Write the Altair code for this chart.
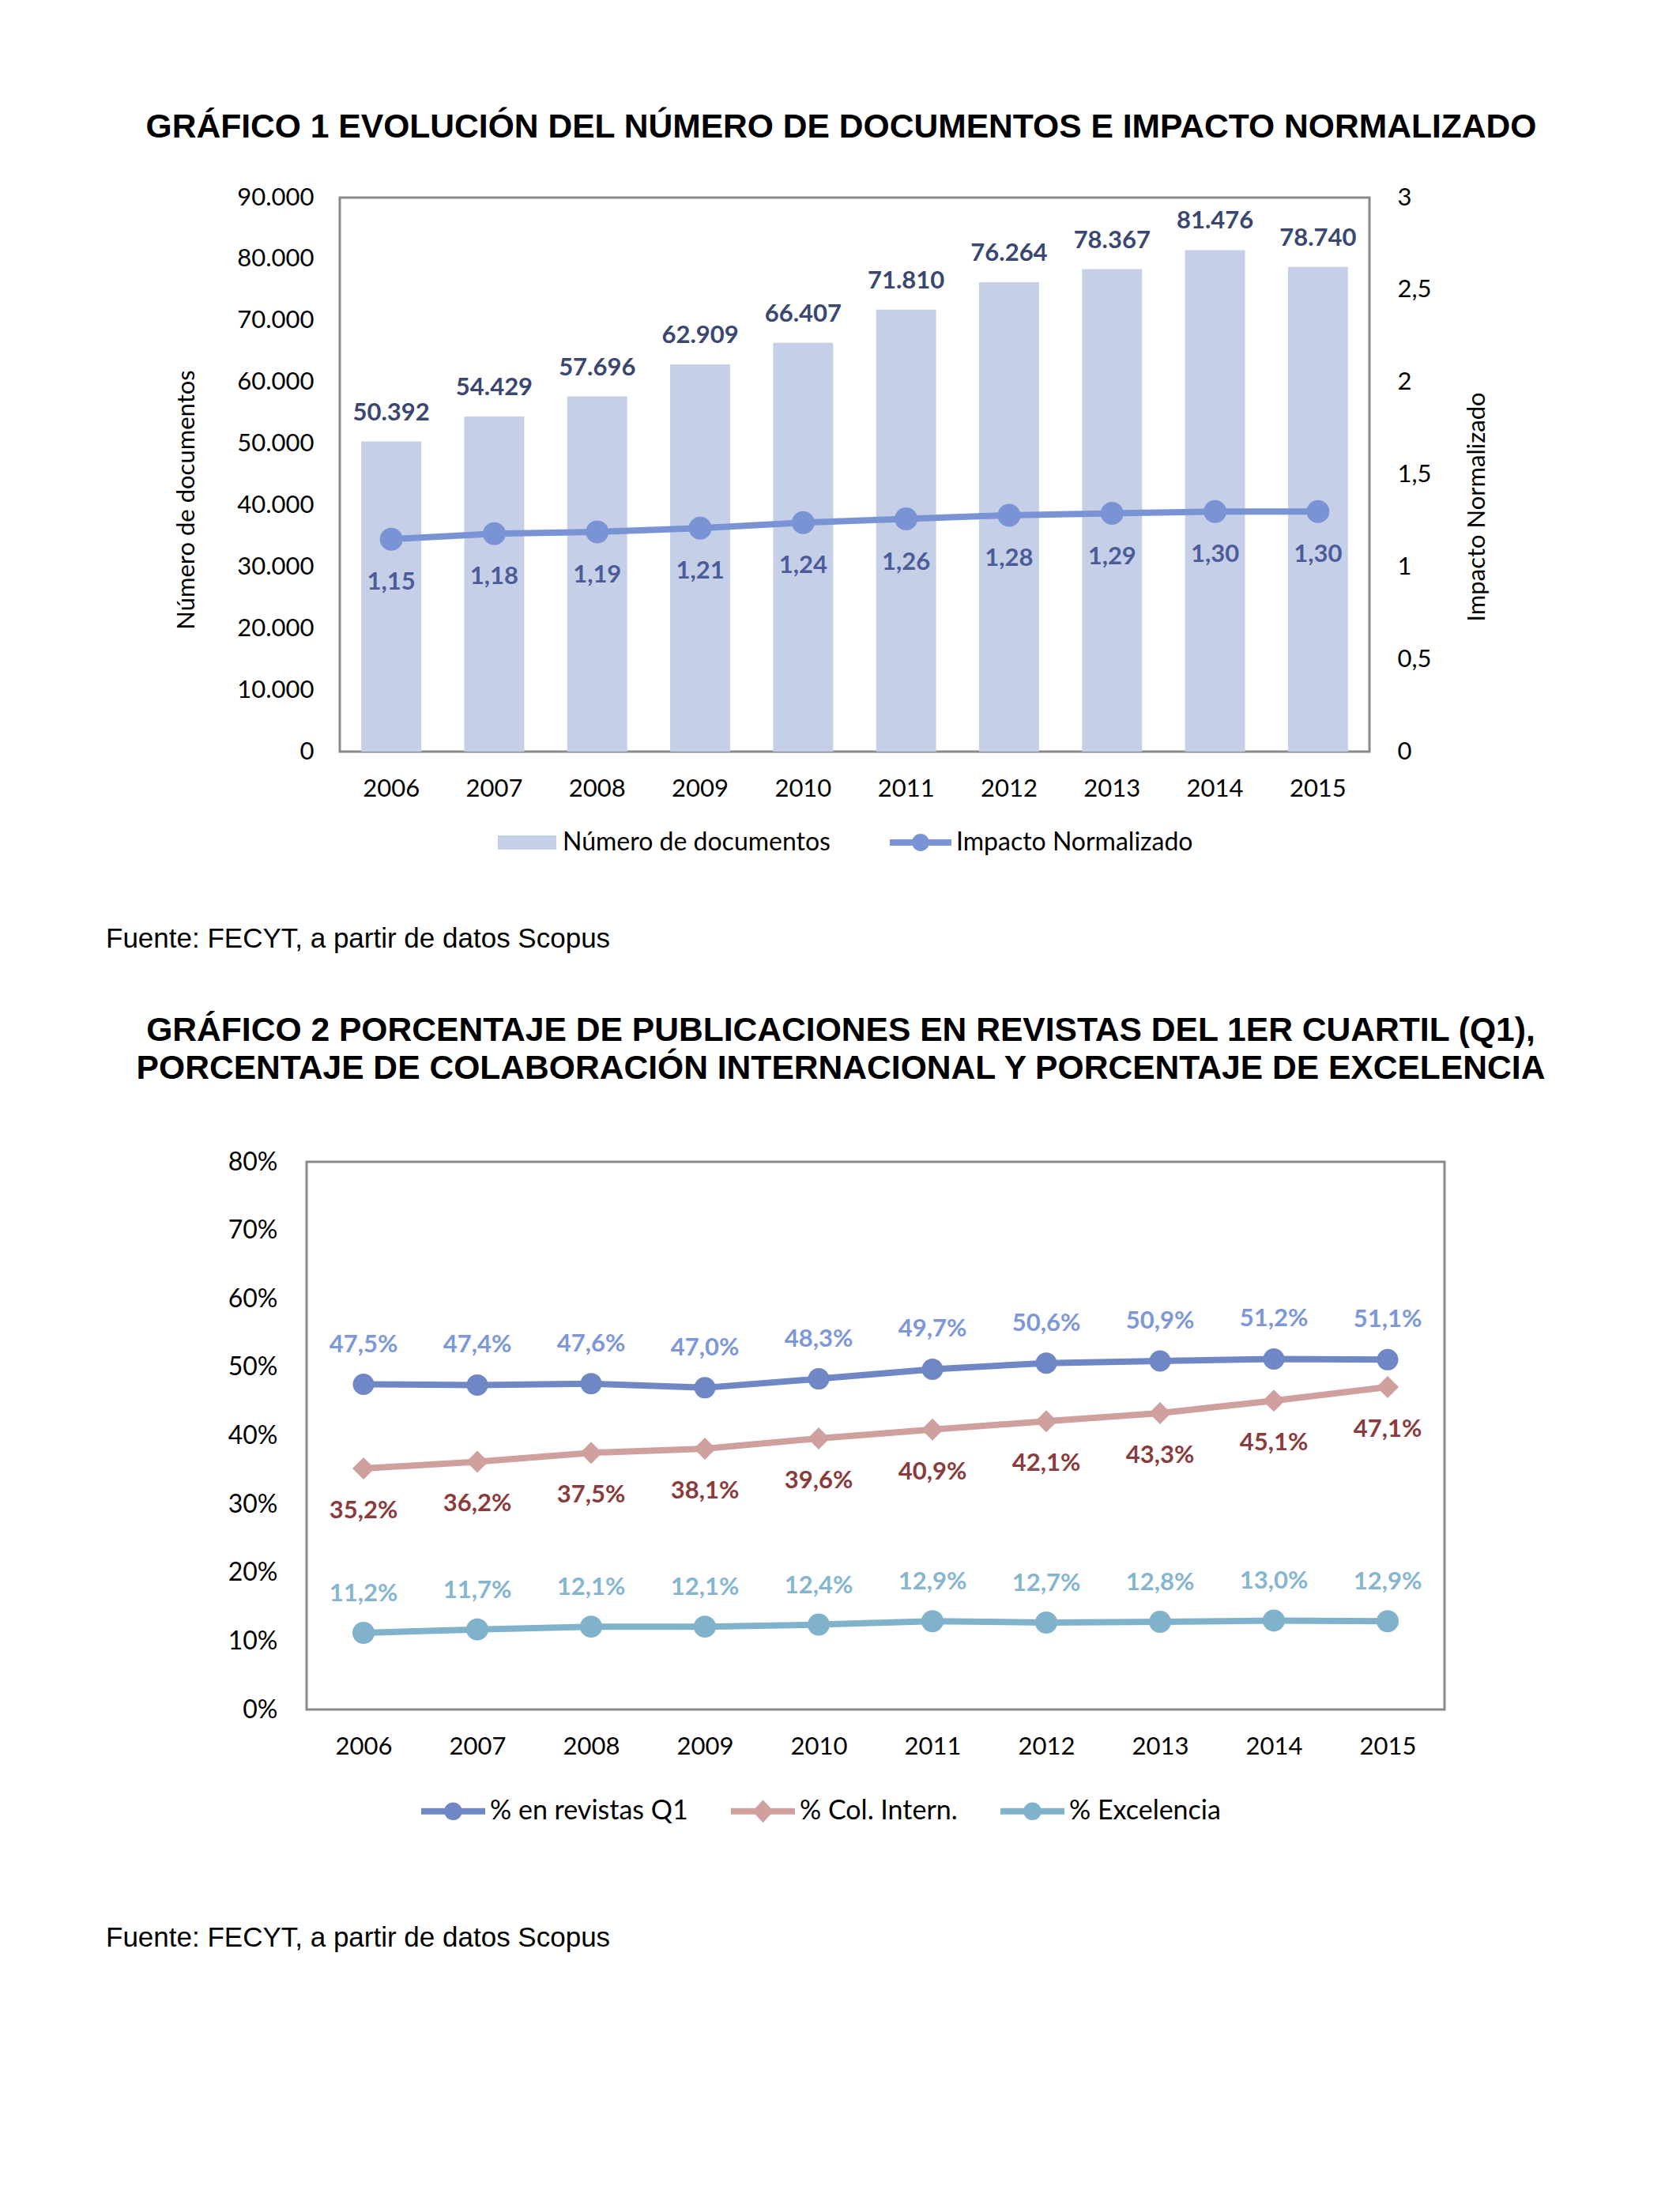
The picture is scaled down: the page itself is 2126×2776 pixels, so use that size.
import altair as alt
import pandas as pd

# ---------------- data ----------------
years = ["2006", "2007", "2008", "2009", "2010", "2011", "2012", "2013", "2014", "2015"]
documentos = [50392, 54429, 57696, 62909, 66407, 71810, 76264, 78367, 81476, 78740]
impacto = [1.15, 1.18, 1.19, 1.21, 1.24, 1.26, 1.28, 1.29, 1.30, 1.30]

q1 = [47.5, 47.4, 47.6, 47.0, 48.3, 49.7, 50.6, 50.9, 51.2, 51.1]
col_intern = [35.2, 36.2, 37.5, 38.1, 39.6, 40.9, 42.1, 43.3, 45.1, 47.1]
excelencia = [11.2, 11.7, 12.1, 12.1, 12.4, 12.9, 12.7, 12.8, 13.0, 12.9]

series1 = ["Número de documentos", "Impacto Normalizado"]
series2 = ["% en revistas Q1", "% Col. Intern.", "% Excelencia"]

left_ticks1 = [0, 10000, 20000, 30000, 40000, 50000, 60000, 70000, 80000, 90000]
right_ticks1 = [0, 0.5, 1, 1.5, 2, 2.5, 3]
ticks2 = [0, 0.1, 0.2, 0.3, 0.4, 0.5, 0.6, 0.7, 0.8]

title1 = "GRÁFICO 1 EVOLUCIÓN DEL NÚMERO DE DOCUMENTOS E IMPACTO NORMALIZADO"
title2 = ["GRÁFICO 2 PORCENTAJE DE PUBLICACIONES EN REVISTAS DEL 1ER CUARTIL (Q1),",
          "PORCENTAJE DE COLABORACIÓN INTERNACIONAL Y PORCENTAJE DE EXCELENCIA"]
source = "Fuente: FECYT, a partir de datos Scopus"

# ---------------- styles ----------------
FONT = "Lato"
TFONT = "Liberation Sans"
BAR = "#C5D0E8"
LINE1 = "#7A93D5"
BARLAB = "#3A4770"
IMPLAB = "#4B5C99"
LINECOLS = ["#6F87C4", "#D0A09E", "#80B2CB"]
LABCOLS = ["#7D97D8", "#8A3B3B", "#85B5CF"]
SHAPES2 = ["circle", "diamond", "circle"]
SIZES2 = [729, 784, 784]
LABDY2 = [-50, 54, -49]
FRAME = "#8A8A8A"
FS = 31
LFS = 32

RECT_PATH = "M-0.95,-0.23H0.95V0.23H-0.95Z"
LINE_CIRCLE = ("M-1,-0.1H1V0.1H-1Z "
               "M-0.28,0A0.28,0.28,0,1,1,0.28,0A0.28,0.28,0,1,1,-0.28,0Z")
LINE_DIAMOND = ("M-1,-0.1H1V0.1H-1Z "
                "M0,-0.36L0.33,0L0,0.36L-0.33,0Z")

df1 = pd.DataFrame({
    "year": years,
    "docs": documentos,
    "docs_label": [f"{v:,}".replace(",", ".") for v in documentos],
    "impact": impacto,
    "impact_label": [f"{v:.2f}".replace(".", ",") for v in impacto],
})

rows = []
for name, vals in zip(series2, [q1, col_intern, excelencia]):
    for y, v in zip(years, vals):
        rows.append({"year": y, "serie": name, "value": v / 100,
                     "label": f"{v:.1f}".replace(".", ",") + "%"})
df2 = pd.DataFrame(rows)

# ---------------- chart 1 ----------------
W1, H1 = 1303, 701
x1 = alt.X("year:O", sort=years,
           scale=alt.Scale(type="band", paddingInner=0.417, paddingOuter=0.2085),
           axis=alt.Axis(title=None, labelAngle=0, ticks=False, tickSize=0, domain=False,
                         grid=False, labelPadding=32))
yl = alt.Y("docs:Q", scale=alt.Scale(domain=[0, 90000], nice=False),
           axis=alt.Axis(orient="left", values=left_ticks1,
                         labelExpr="replace(format(datum.value, ','), ',', '.')",
                         title="Número de documentos", titleX=-194, titleY=382,
                         titleAngle=270, titleBaseline="middle", titleAlign="center",
                         ticks=False, tickSize=0, domain=False, grid=False, labelPadding=33))
yr = alt.Y("impact:Q", scale=alt.Scale(domain=[0, 3], nice=False),
           axis=alt.Axis(orient="right", values=right_ticks1,
                         labelExpr="replace(toString(datum.value), '.', ',')",
                         title="Impacto Normalizado", titleX=136, titleY=391,
                         titleAngle=270, titleBaseline="middle", titleAlign="center",
                         ticks=False, tickSize=0, domain=False, grid=False, labelPadding=35))

base1 = alt.Chart(df1)
bars = base1.mark_bar(color=BAR).encode(x=x1, y=yl)
bar_labels = base1.mark_text(dy=-36, font=FONT, fontSize=FS, fontWeight="bold",
                             color=BARLAB, baseline="middle").encode(x=x1, y=yl, text="docs_label:N")
line1 = base1.mark_line(color=LINE1, strokeWidth=8).encode(x=x1, y=yr)
pts1 = base1.mark_point(filled=True, size=841, color=LINE1, opacity=1).encode(x=x1, y=yr)
imp_labels = base1.mark_text(dy=55, font=FONT, fontSize=FS, fontWeight="bold",
                             color=IMPLAB, baseline="middle").encode(x=x1, y=yr, text="impact_label:N")

leg1_params = dict(title=None, orient="none", legendX=240, legendY=777, direction="horizontal",
                   symbolSize=6084, labelFontSize=LFS, labelFont=FONT, labelColor="#000000",
                   labelOffset=6, columnPadding=75, padding=0, symbolStrokeWidth=0,
                   symbolOpacity=1, labelLimit=1000)
legend1 = alt.Chart(pd.DataFrame({"serie": series1})).transform_filter("false").mark_point(
    filled=True).encode(
    color=alt.Color("serie:N", scale=alt.Scale(domain=series1, range=[BAR, LINE1]),
                    legend=alt.Legend(**leg1_params)),
    shape=alt.Shape("serie:N", scale=alt.Scale(domain=series1, range=[RECT_PATH, LINE_CIRCLE]),
                    legend=alt.Legend(**leg1_params)),
)
src1 = alt.Chart(pd.DataFrame({"fuente": [source]})).mark_text(
    align="left", baseline="middle", font=TFONT, fontSize=35, color="#000000").encode(
    text="fuente:N", x=alt.value(-296), y=alt.value(938))

chart1 = alt.layer(
    alt.layer(bars, bar_labels),
    alt.layer(line1, pts1, imp_labels),
    legend1, src1,
).resolve_scale(y="independent").properties(
    width=W1, height=H1,
    view=alt.ViewBackground(stroke=FRAME, strokeWidth=3),
    title=alt.TitleParams(text=title1, anchor="middle", frame="group", dx=-17, offset=8,
                          baseline="bottom", font=TFONT, fontSize=42.6, fontWeight="bold",
                          color="#000000"),
)

blank = alt.Chart(pd.DataFrame({"v": [0]})).mark_point(opacity=0).encode(
    x=alt.value(0), y=alt.value(0)).properties(width=42, height=H1)

row1 = alt.hconcat(blank, chart1, spacing=0, bounds="flush")

# ---------------- chart 2 ----------------
W2, H2 = 1440, 693
x2 = alt.X("year:O", sort=years, scale=alt.Scale(type="point", padding=0.5),
           axis=alt.Axis(title=None, labelAngle=0, ticks=False, tickSize=0, domain=False,
                         grid=False, labelPadding=32))
y2 = alt.Y("value:Q", scale=alt.Scale(domain=[0, 0.8], nice=False),
           axis=alt.Axis(title=None, values=ticks2, format=".0%", ticks=False, tickSize=0,
                         domain=False, grid=False, labelPadding=37, labelFontSize=32))

base2 = alt.Chart(df2)
layers2 = []
for i, name in enumerate(series2):
    sub = base2.transform_filter(alt.datum.serie == name)
    layers2.append(sub.mark_line(strokeWidth=8, color=LINECOLS[i]).encode(x=x2, y=y2))
for i, name in enumerate(series2):
    sub = base2.transform_filter(alt.datum.serie == name)
    layers2.append(sub.mark_point(shape=SHAPES2[i], filled=True, size=SIZES2[i], opacity=1,
                                  color=LINECOLS[i]).encode(x=x2, y=y2))
for i, name in enumerate(series2):
    sub = base2.transform_filter(alt.datum.serie == name)
    layers2.append(sub.mark_text(dy=LABDY2[i], font=FONT, fontSize=FS, fontWeight="bold",
                                 color=LABCOLS[i], baseline="middle").encode(
        x=x2, y=y2, text="label:N"))

leg2_params = dict(title=None, orient="none", legendX=145, legendY=781, direction="horizontal",
                   symbolSize=6561, labelFontSize=34, labelFont=FONT, labelColor="#000000",
                   labelOffset=6, columnPadding=54, padding=0, symbolStrokeWidth=0,
                   symbolOpacity=1, labelLimit=1000)
legend2 = alt.Chart(pd.DataFrame({"serie": series2})).transform_filter("false").mark_point(
    filled=True).encode(
    color=alt.Color("serie:N", scale=alt.Scale(domain=series2, range=LINECOLS),
                    legend=alt.Legend(**leg2_params)),
    shape=alt.Shape("serie:N", scale=alt.Scale(domain=series2,
                                              range=[LINE_CIRCLE, LINE_DIAMOND, LINE_CIRCLE]),
                    legend=alt.Legend(**leg2_params)),
)
src2 = alt.Chart(pd.DataFrame({"fuente": [source]})).mark_text(
    align="left", baseline="middle", font=TFONT, fontSize=35, color="#000000").encode(
    text="fuente:N", x=alt.value(-254), y=alt.value(982))

chart2 = alt.layer(*layers2, legend2, src2).properties(
    width=W2, height=H2,
    view=alt.ViewBackground(stroke=FRAME, strokeWidth=3),
    title=alt.TitleParams(text=title2, anchor="middle", frame="group", dx=-44, offset=37,
                          baseline="bottom", lineHeight=48, font=TFONT, fontSize=42.6,
                          fontWeight="bold", color="#000000"),
)

# ---------------- page ----------------
page = alt.vconcat(row1, chart2, spacing=1220, bounds="flush").resolve_scale(
    color="independent", shape="independent"
).resolve_legend(
    color="independent", shape="independent"
).properties(
    padding={"top": 130, "left": 124, "right": 20, "bottom": 20},
    background="#FFFFFF",
).configure_view(strokeWidth=0).configure_axis(
    labelFont=FONT, labelFontSize=FS, labelColor="#000000",
    titleFont=FONT, titleFontSize=FS, titleFontWeight="normal", titleColor="#000000",
)

page.save("out.html", embed_options={"renderer": "svg", "actions": False})
